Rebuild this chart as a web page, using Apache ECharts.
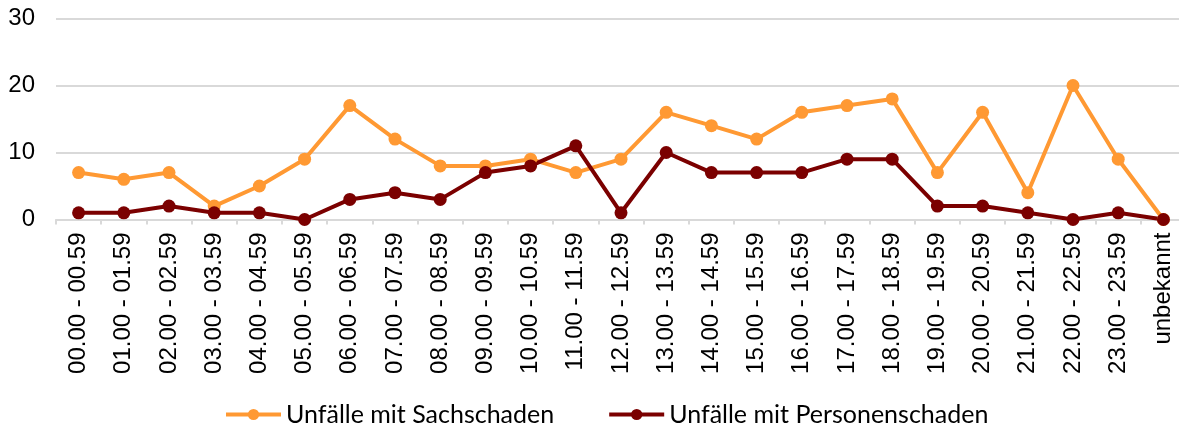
<!DOCTYPE html>
<html>
<head>
<meta charset="utf-8">
<script src="https://cdn.jsdelivr.net/npm/echarts@6/dist/echarts.min.js"></script>
<style>
  html, body { margin: 0; padding: 0; background: #fff; }
  #main { width: 1179px; height: 430px; }
</style>
</head>
<body>
<div id="main"></div>
<script>
// Stunden-Kategorien
var hours = [
  '00.00 - 00.59', '01.00 - 01.59', '02.00 - 02.59', '03.00 - 03.59', '04.00 - 04.59',
  '05.00 - 05.59', '06.00 - 06.59', '07.00 - 07.59', '08.00 - 08.59', '09.00 - 09.59',
  '10.00 - 10.59', '11.00 - 11.59', '12.00 - 12.59', '13.00 - 13.59', '14.00 - 14.59',
  '15.00 - 15.59', '16.00 - 16.59', '17.00 - 17.59', '18.00 - 18.59', '19.00 - 19.59',
  '20.00 - 20.59', '21.00 - 21.59', '22.00 - 22.59', '23.00 - 23.59', 'unbekannt'
];
var sachschaden = [7, 6, 7, 2, 5, 9, 17, 12, 8, 8, 9, 7, 9, 16, 14, 12, 16, 17, 18, 7, 16, 4, 20, 9, 0];
var personenschaden = [1, 1, 2, 1, 1, 0, 3, 4, 3, 7, 8, 11, 1, 10, 7, 7, 7, 9, 9, 2, 2, 1, 0, 1, 0];
var seriesNames = ['Unfälle mit Sachschaden', 'Unfälle mit Personenschaden'];
var yTicks = { min: 0, max: 30, step: 10 };

var chart = echarts.init(document.getElementById('main'), null, { renderer: 'canvas' });

var option = {
  backgroundColor: '#fff',
  animation: false,
  color: ['#FF9933', '#7B0000'],
  grid: {
    left: 56,
    top: 18.5,
    width: 1130,
    height: 201,
    containLabel: false,
    outerBoundsMode: 'none'
  },
  legend: {
    left: 224,
    top: 402,
    padding: 0,
    itemWidth: 55,
    itemHeight: 14,
    itemGap: 53,
    lineStyle: { width: 4 },
    textStyle: {
      fontFamily: 'Lato',
      fontSize: 25,
      color: '#000'
    },
    data: seriesNames
  },
  xAxis: {
    type: 'category',
    data: hours,
    axisLine: { lineStyle: { color: '#D9D9D9', width: 2 } },
    axisTick: { show: true, length: 5, lineStyle: { color: '#D9D9D9', width: 2 } },
    axisLabel: {
      rotate: 90,
      interval: 0,
      margin: 13,
      color: '#000',
      fontFamily: 'Liberation Sans',
      fontSize: 24
    }
  },
  yAxis: {
    type: 'value',
    min: yTicks.min,
    max: yTicks.max,
    interval: yTicks.step,
    axisLine: { show: false },
    axisTick: { show: false },
    splitLine: { lineStyle: { color: '#D9D9D9', width: 2 } },
    axisLabel: {
      margin: 21,
      color: '#000',
      fontFamily: 'Liberation Sans',
      fontSize: 24
    }
  },
  series: [
    {
      name: seriesNames[0],
      type: 'line',
      data: sachschaden,
      symbol: 'circle',
      symbolSize: 13,
      lineStyle: { width: 4 },
      itemStyle: { color: '#FF9933' }
    },
    {
      name: seriesNames[1],
      type: 'line',
      data: personenschaden,
      symbol: 'circle',
      symbolSize: 13,
      lineStyle: { width: 4 },
      itemStyle: { color: '#7B0000' }
    }
  ]
};

chart.setOption(option);
</script>
</body>
</html>
